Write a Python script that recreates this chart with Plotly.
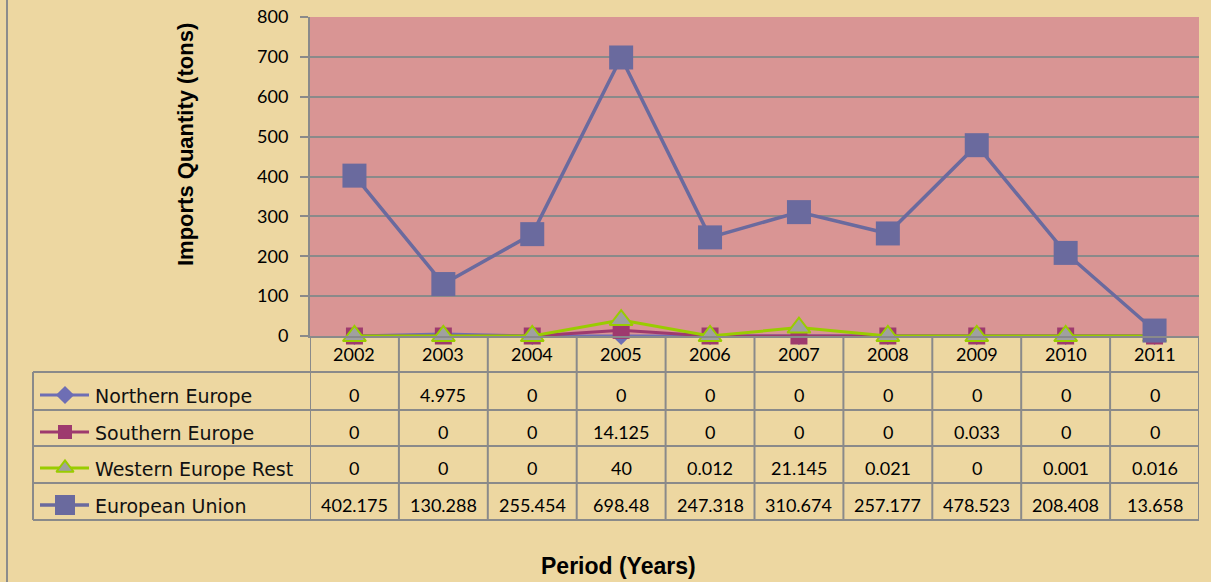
import plotly.graph_objects as go

years = ["2002", "2003", "2004", "2005", "2006", "2007", "2008", "2009", "2010", "2011"]
northern_europe = [0, 4.975, 0, 0, 0, 0, 0, 0, 0, 0]
southern_europe = [0, 0, 0, 14.125, 0, 0, 0, 0.033, 0, 0]
western_europe_rest = [0, 0, 0, 40, 0.012, 21.145, 0.021, 0, 0.001, 0.016]
european_union = [402.175, 130.288, 255.454, 698.48, 247.318, 310.674, 257.177, 478.523, 208.408, 13.658]

series_names = ["Northern Europe", "Southern Europe", "Western Europe Rest", "European Union"]
series_values = [northern_europe, southern_europe, western_europe_rest, european_union]

W, H = 1211, 582
BG = "#EDD7A1"
GRID = "#8A8A8A"
FONT = "Lato"

styles = [
    dict(line=dict(color="#6E6EB4", width=3),
         marker=dict(symbol="diamond", size=14, color="#6E6EB4", opacity=1, line=dict(width=0))),
    dict(line=dict(color="#9E3A6E", width=3),
         marker=dict(symbol="square", size=17, color="#9E3A6E", opacity=1, line=dict(width=0))),
    dict(line=dict(color="#99CC00", width=3),
         marker=dict(symbol="triangle-up", size=20, color="#A0A0A0", opacity=1,
                     line=dict(color="#99CC00", width=2))),
    dict(line=dict(color="#6A6A9E", width=3.5),
         marker=dict(symbol="square", size=24, color="#6A6A9E", opacity=1, line=dict(width=0))),
]
key_sizes = [14, 14, 15, 20]

def px(x):
    return x / W

def py(y):
    return 1 - y / H

x_idx = list(range(len(years)))

fig = go.Figure()
for name, vals, st in zip(series_names, series_values, styles):
    fig.add_trace(go.Scatter(x=x_idx, y=vals, name=name, mode="lines+markers",
                             line=st["line"], marker=st["marker"], cliponaxis=False,
                             showlegend=False))

# data table geometry (pixels)
plot_l, plot_r, plot_t, plot_b = 310, 1199, 17, 336
tab_l = 33
row_lines = [372, 410, 446, 483, 520]
row_centers = [395, 432, 468, 505]
header_center = 354

shapes = []
# plot area fill
shapes.append(dict(type="rect", xref="x domain", yref="y domain", x0=0, x1=1, y0=0, y1=1,
                   fillcolor="#D99594", line=dict(width=0), layer="below"))
# horizontal table lines
for y in row_lines:
    shapes.append(dict(type="line", xref="paper", yref="paper", x0=px(tab_l), x1=px(plot_r),
                       y0=py(y), y1=py(y), line=dict(color=GRID, width=2)))
# left table edge
shapes.append(dict(type="line", xref="paper", yref="paper", x0=px(tab_l), x1=px(tab_l),
                   y0=py(row_lines[0]), y1=py(row_lines[-1]), line=dict(color=GRID, width=2)))
# vertical category boundaries
for k in range(len(years) + 1):
    shapes.append(dict(type="line", xref="x", yref="paper", x0=k - 0.5, x1=k - 0.5,
                       y0=py(plot_b), y1=py(row_lines[-1]), line=dict(color=GRID, width=2)))
# outer chart border (left)
shapes.append(dict(type="line", xref="paper", yref="paper", x0=px(7), x1=px(7), y0=0, y1=1,
                   line=dict(color="#8C8C8C", width=2)))

annotations = []
for i, yr in enumerate(years):
    annotations.append(dict(x=i, xref="x", y=py(header_center), yref="paper", text=yr, showarrow=False,
                            font=dict(family=FONT, size=18, color="black"), xanchor="center", yanchor="middle"))
for r, (name, vals) in enumerate(zip(series_names, series_values)):
    for i, v in enumerate(vals):
        annotations.append(dict(x=i, xref="x", y=py(row_centers[r]), yref="paper", text=f"{v:g}",
                                showarrow=False, font=dict(family=FONT, size=18, color="black"),
                                xanchor="center", yanchor="middle"))
    annotations.append(dict(x=px(95), xref="paper", y=py(row_centers[r] + 1), yref="paper", text=name,
                            showarrow=False, font=dict(family="DejaVu Sans", size=19, color="#111111"),
                            xanchor="left", yanchor="middle", xshift=-2))
    # legend keys on overlay axis
    st = styles[r]
    mk = dict(st["marker"])
    fig.add_trace(go.Scatter(x=[40, 65, 89], y=[row_centers[r]] * 3, mode="lines+markers",
                             line=st["line"], marker=dict(mk, size=[0, key_sizes[r], 0]),
                             xaxis="x2", yaxis="y2", showlegend=False, hoverinfo="skip"))

annotations.append(dict(x=px(618), xref="paper", y=py(566), yref="paper", text="<b>Period (Years)</b>",
                        showarrow=False, font=dict(family="Liberation Sans", size=23, color="black"),
                        xanchor="center", yanchor="middle"))
annotations.append(dict(x=px(185), xref="paper", y=py(145), yref="paper", text="<b>Imports Quantity (tons)</b>",
                        showarrow=False, textangle=-90, font=dict(family="Liberation Sans", size=22, color="black"),
                        xanchor="center", yanchor="middle"))

fig.update_layout(
    width=W, height=H, autosize=False,
    margin=dict(l=0, r=0, t=0, b=0, pad=0),
    paper_bgcolor=BG, plot_bgcolor="rgba(0,0,0,0)",
    shapes=shapes, annotations=annotations,
    xaxis=dict(domain=[px(plot_l), px(plot_r)], range=[-0.5, len(years) - 0.5], showgrid=False,
               zeroline=False, showticklabels=False, showline=True, linecolor=GRID, linewidth=2,
               fixedrange=True, automargin=False),
    yaxis=dict(domain=[py(plot_b), py(plot_t)], range=[0, 800], dtick=100, showgrid=True, gridcolor=GRID,
               gridwidth=2, zeroline=False, showline=True, linecolor=GRID, linewidth=2, ticks="outside",
               ticklen=8, tickcolor=GRID, tickwidth=2, ticklabelstandoff=8, automargin=False,
               tickfont=dict(family=FONT, size=18, color="black")),
    xaxis2=dict(domain=[0, 1], range=[0, W], visible=False, anchor="y2", automargin=False),
    yaxis2=dict(domain=[0, 1], range=[H, 0], visible=False, anchor="x2", automargin=False),
)

fig.write_html("out.html", config={"displayModeBar": False, "staticPlot": True},
               post_script="document.body.style.margin='0';document.body.style.overflow='hidden';")
